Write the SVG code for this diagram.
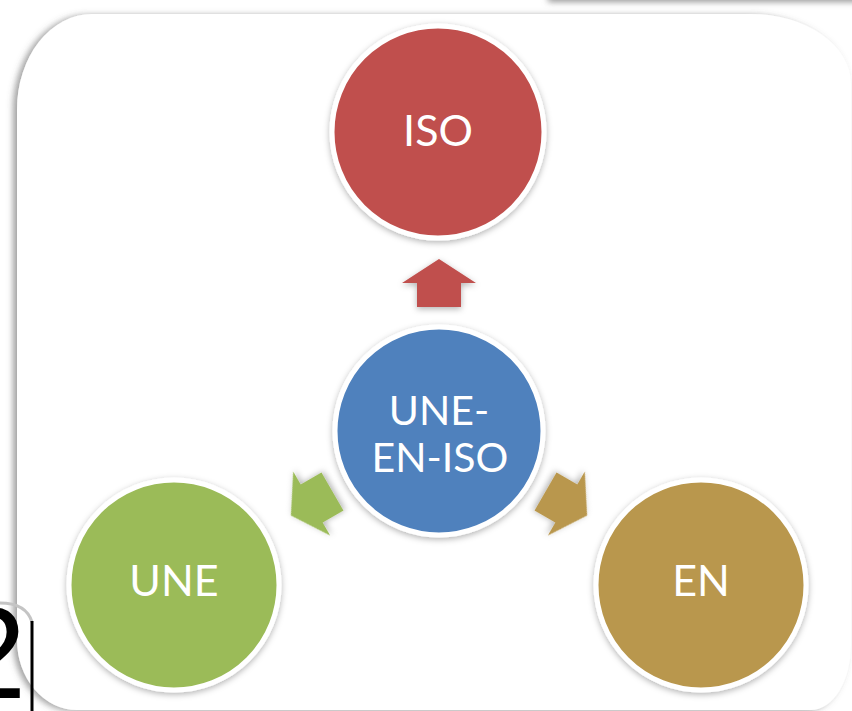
<svg xmlns="http://www.w3.org/2000/svg" width="852" height="711" viewBox="0 0 852 711">
  <defs>
    <filter id="panelShadow" x="-10%" y="-10%" width="120%" height="120%">
      <feDropShadow dx="-4" dy="1" stdDeviation="3" flood-color="#555" flood-opacity="0.55"/>
    </filter>
    <filter id="soft" x="-20%" y="-20%" width="140%" height="140%">
      <feDropShadow dx="0" dy="2" stdDeviation="3" flood-color="#000" flood-opacity="0.3"/>
    </filter>
    <filter id="blur3" x="-20%" y="-200%" width="140%" height="500%">
      <feGaussianBlur stdDeviation="3"/>
    </filter>
    <path id="arrow" d="M0,-24 L37,0 L22,0 L22,24 L-22,24 L-22,0 L-37,0 Z"/>
    <clipPath id="leftClip"><rect x="0" y="590" width="29" height="121"/></clipPath>
    <style>
      .ring { stroke: #ffffff; stroke-width: 5; filter: url(#soft); }
      .lbl { font-family: Lato, "Open Sans", "Liberation Sans", sans-serif; font-size: 43px; fill: #ffffff; text-anchor: middle; }
      .lbl2 { font-size: 41px; }
    </style>
  </defs>

  <rect x="0" y="0" width="852" height="711" fill="#ffffff"/>
  <!-- top shadow strip -->
  <rect x="548" y="-12" width="330" height="14" fill="#9a9a9a" filter="url(#blur3)"/>

  <!-- panel -->
  <path d="M92,14 L751,14 A100,70 0 0 1 851,84 L851,645 A40,65 0 0 1 811,710 L77,710 A60,70 0 0 1 17,640 L17,109 A75,95 0 0 1 92,14 Z" fill="#ffffff" filter="url(#panelShadow)"/>

  <!-- partial box with "2" at lower left -->
  <g id="corner-box">
    <path d="M0,603 Q26,603 32,622" fill="none" stroke="#c4c4c4" stroke-width="3"/>
    <line x1="32" y1="621" x2="32" y2="711" stroke="#000" stroke-width="3"/>
    <text x="-46" y="698" clip-path="url(#leftClip)" font-family="Liberation Sans, sans-serif" font-size="130" fill="#000">2</text>
  </g>

  <g id="connectors">
    <use href="#arrow" transform="translate(439,283)" fill="#C0504D" filter="url(#soft)"/>
    <use href="#arrow" transform="rotate(-120 439 430) translate(439,283)" fill="#9BBB59" filter="url(#soft)"/>
    <use href="#arrow" transform="rotate(120 439 430) translate(439,283)" fill="#B9974D" filter="url(#soft)"/>
  </g>

  <g id="iso">
    <circle cx="438" cy="132" r="106" fill="#C0504D" class="ring"/>
    <text x="438" y="146" class="lbl">ISO</text>
  </g>
  <g id="une-en-iso">
    <circle cx="439" cy="431" r="104" fill="#4F81BD" class="ring"/>
    <text x="439" y="425" class="lbl lbl2">UNE-</text>
    <text x="440" y="472" class="lbl lbl2">EN-ISO</text>
  </g>
  <g id="une">
    <circle cx="174" cy="585" r="105" fill="#9BBB59" class="ring"/>
    <text x="174" y="596" class="lbl">UNE</text>
  </g>
  <g id="en">
    <circle cx="701" cy="585" r="105" fill="#B9974D" class="ring"/>
    <text x="701" y="596" class="lbl">EN</text>
  </g>
</svg>
